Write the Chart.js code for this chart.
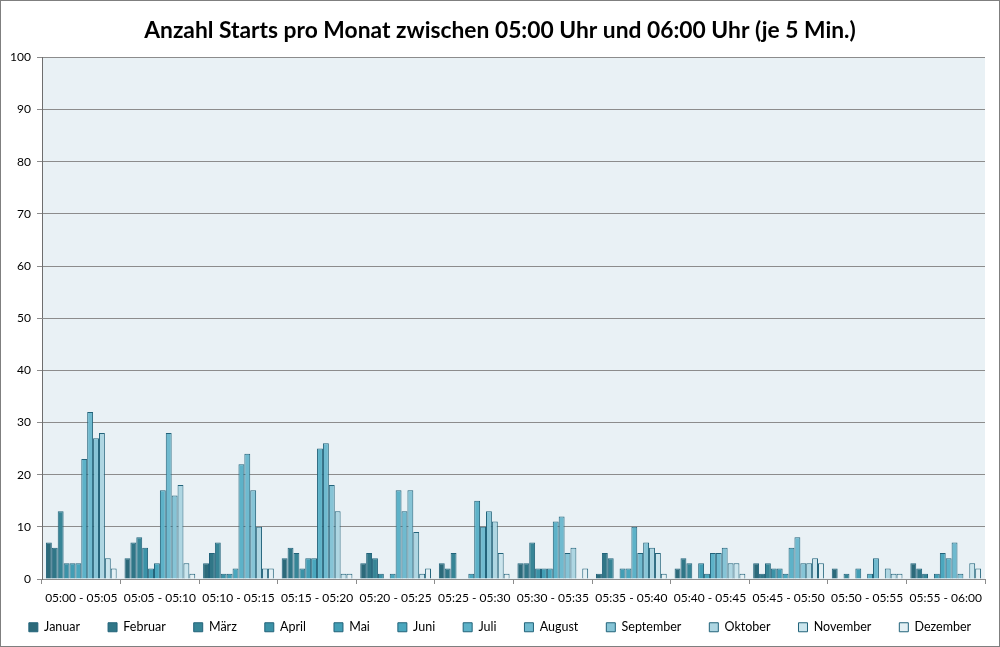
<!DOCTYPE html>
<html>
<head>
<meta charset="utf-8">
<script src="https://cdn.jsdelivr.net/npm/chart.js@4.4.1/dist/chart.umd.min.js"></script>
<style>
  html, body { margin: 0; padding: 0; background: #fff; }
  #wrap { width: 1000px; height: 647px; }
</style>
</head>
<body>
<div id="wrap"><canvas id="chart"></canvas></div>
<script>
const slots = ["05:00 - 05:05", "05:05 - 05:10", "05:10 - 05:15", "05:15 - 05:20",
  "05:20 - 05:25", "05:25 - 05:30", "05:30 - 05:35", "05:35 - 05:40",
  "05:40 - 05:45", "05:45 - 05:50", "05:50 - 05:55", "05:55 - 06:00"];
const months = ["Januar", "Februar", "März", "April", "Mai", "Juni", "Juli",
  "August", "September", "Oktober", "November", "Dezember"];

const jan = [7, 4, 3, 4, 3, 3, 3, 1, 2, 3, 2, 3];
const feb = [6, 7, 5, 6, 5, 2, 3, 5, 4, 1, 0, 2];
const mar = [13, 8, 7, 5, 4, 5, 7, 4, 3, 3, 1, 1];
const apr = [3, 6, 1, 2, 1, 0, 2, 0, 0, 2, 0, 0];
const mai = [3, 2, 1, 4, 0, 0, 2, 2, 3, 2, 2, 1];
const jun = [3, 3, 2, 4, 1, 1, 2, 2, 1, 1, 0, 5];
const jul = [23, 17, 22, 25, 17, 15, 11, 10, 5, 6, 1, 4];
const aug = [32, 28, 24, 26, 13, 10, 12, 5, 5, 8, 4, 7];
const sep = [27, 16, 17, 18, 17, 13, 5, 7, 6, 3, 0, 1];
const okt = [28, 18, 10, 13, 9, 11, 6, 6, 3, 3, 2, 0];
const nov = [4, 3, 2, 1, 1, 5, 0, 5, 3, 4, 1, 3];
const dez = [2, 1, 2, 1, 2, 1, 2, 1, 1, 3, 1, 2];

const series = [jan, feb, mar, apr, mai, jun, jul, aug, sep, okt, nov, dez];
const fills = ["#2c6a7a", "#307687", "#378596", "#3b92a7", "#429eb5", "#4aa7be",
  "#5db2c8", "#6fbacf", "#86c4d6", "#aed6e2", "#cbe5ed", "#e4f0f4"];

// plot background + outer frame, legend kept compact
const frame = {
  id: "frame",
  beforeInit(chart) {
    const lg = chart.legend;
    const fit = lg.fit;
    lg.fit = function () { fit.call(this); this.height = 50; };
  },
  beforeDraw(chart) {
    const { ctx, chartArea: a } = chart;
    ctx.save();
    ctx.fillStyle = "#fff";
    ctx.fillRect(0, 0, chart.width, chart.height);
    ctx.fillStyle = "#e9f1f5";
    ctx.fillRect(a.left, a.top, a.right - a.left, a.bottom - a.top);
    ctx.restore();
  },
  afterDraw(chart) {
    const ctx = chart.ctx;
    ctx.save();
    ctx.strokeStyle = "#7f7f7f";
    ctx.lineWidth = 1;
    ctx.strokeRect(0.5, 0.5, chart.width - 1, chart.height - 1);
    ctx.restore();
  }
};

Chart.defaults.font.family = "Lato, 'Open Sans', sans-serif";
Chart.defaults.color = "#000";

new Chart(document.getElementById("chart"), {
  type: "bar",
  data: {
    labels: slots,
    datasets: series.map((d, i) => ({
      label: months[i],
      data: d,
      backgroundColor: fills[i],
      borderColor: "#22637a",
      borderWidth: 1,
      barPercentage: 1,
      categoryPercentage: 0.9
    }))
  },
  options: {
    responsive: true,
    maintainAspectRatio: false,
    animation: false,
    layout: { padding: { top: 3, right: 0, left: 0, bottom: 4 } },
    scales: {
      x: {
        grid: {
          offset: true,
          drawOnChartArea: false,
          color: "#8c8c8c",
          tickLength: 5
        },
        border: { color: "#8c8c8c" },
        ticks: { font: { size: 12 }, maxRotation: 0, autoSkip: false, padding: 7 },
        afterFit(s) {
          s.height = 14;
          s._computeLabelArea = () => undefined;
        }
      },
      y: {
        min: 0,
        max: 100,
        ticks: { stepSize: 10, font: { size: 12 }, padding: 6 },
        grid: { color: "#8c8c8c", tickLength: 5 },
        border: { color: "#6e6e6e" },
        afterFit(s) { s.width = 42; }
      },
      // empty strip on the right
      y2: {
        position: "right",
        grid: { display: false },
        border: { display: false },
        ticks: { display: false },
        afterFit(s) { s.width = 15; }
      }
    },
    plugins: {
      title: {
        display: true,
        text: "Anzahl Starts pro Monat zwischen 05:00 Uhr und 06:00 Uhr (je 5 Min.)",
        font: { size: 22.8, weight: "bold" },
        color: "#000",
        padding: { top: 14, bottom: 13 }
      },
      legend: {
        position: "bottom",
        labels: {
          boxWidth: 9,
          boxHeight: 9,
          padding: 28,
          font: { size: 12.5 },
          color: "#000"
        }
      },
      tooltip: { enabled: false }
    }
  },
  plugins: [frame]
});
</script>
</body>
</html>
